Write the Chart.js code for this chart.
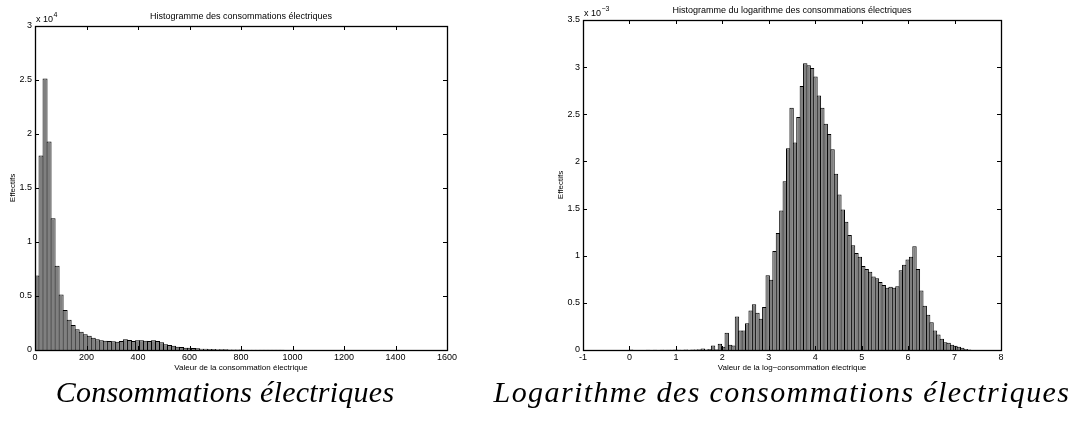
<!DOCTYPE html>
<html>
<head>
<meta charset="utf-8">
<script src="https://cdn.jsdelivr.net/npm/chart.js@4.4.1/dist/chart.umd.min.js"></script>
<style>
  body { margin: 0; background: #fff; }
  #wrap { position: relative; width: 1073px; height: 421px; overflow: hidden; background: #fff; }
  #left { position: absolute; left: 0; top: 0; }
  #right { position: absolute; left: 540px; top: 0; }
  .caption {
    position: absolute; top: 377px; line-height: 30px;
    font-family: "Liberation Serif", serif; font-style: italic; font-size: 30px;
    white-space: nowrap; transform: translateX(-50%);
  }
</style>
</head>
<body>
<div id="wrap">
  <canvas id="left" width="470" height="380"></canvas>
  <canvas id="right" width="533" height="380"></canvas>
  <div class="caption" style="left:225px; letter-spacing:0.25px">Consommations électriques</div>
  <div class="caption" style="left:782px; letter-spacing:1.4px">Logarithme des consommations électriques</div>
</div>
<script>
// histogram of the raw consumption: 100 bins starting at 0
const consBinWidth = 15.6;
const consCounts = [
  6900, 18000, 25150, 19300, 12200, 7800, 5150, 3700, 2800, 2310,
  1920, 1690, 1450, 1330, 1140, 990, 900, 860, 830, 800,
  770, 830, 990, 925, 830, 900, 900, 860, 830, 900,
  830, 710, 525, 460, 400, 310, 280, 215, 215, 185,
  155, 120, 120, 90, 90, 75, 65, 60, 55, 45,
  40, 38, 32, 30, 26, 24, 20, 18, 16, 15,
  13, 12, 10, 10, 9, 8, 7, 7, 6, 6,
  5, 5, 4, 4, 4, 3, 3, 3, 3, 2,
  2, 2, 2, 2, 1, 1, 1, 1, 1, 1,
  1, 1, 1, 1, 1, 1, 1, 1, 1, 1
];

// histogram of the log-consumption: 100 bins starting at 0, values in 1e-3
const logBinWidth = 0.0735;
const logFreqE3 = [
  0.004, 0, 0.001, 0.001, 0, 0.002, 0.001, 0.002, 0.001, 0.002,
  0.003, 0.002, 0.002, 0.006, 0.002, 0.003, 0.004, 0.003, 0.005, 0.004,
  0.008, 0.015, 0.006, 0.010, 0.048, 0.008, 0.066, 0.035, 0.183, 0.055,
  0.048, 0.356, 0.207, 0.207, 0.285, 0.42, 0.484, 0.395, 0.331, 0.455,
  0.792, 0.746, 1.05, 1.24, 1.48, 1.79, 2.14, 2.57, 2.20, 2.47,
  2.80, 3.04, 3.02, 2.99, 2.90, 2.70, 2.57, 2.40, 2.29, 2.13,
  1.87, 1.65, 1.49, 1.36, 1.22, 1.11, 1.03, 0.99, 0.89, 0.86,
  0.83, 0.78, 0.76, 0.72, 0.69, 0.66, 0.67, 0.66, 0.675, 0.845,
  0.905, 0.96, 0.99, 1.10, 0.86, 0.63, 0.47, 0.374, 0.295, 0.207,
  0.165, 0.119, 0.083, 0.077, 0.055, 0.045, 0.035, 0.023, 0.010, 0.004
];

const toPoints = (values, width) => values.map((v, i) => ({ x: width * (i + 0.5), y: v }));

// matlab-like box, inner ticks and texts
const frame = {
  id: 'frame',
  afterDraw(chart, args, opts) {
    const { ctx, chartArea: a, scales } = chart;
    ctx.save();
    ctx.strokeStyle = '#000';
    ctx.lineWidth = 1;
    ctx.beginPath();
    scales.x.ticks.forEach((t) => {
      const px = Math.round(scales.x.getPixelForValue(t.value)) + 0.5;
      ctx.moveTo(px, a.bottom); ctx.lineTo(px, a.bottom - 4);
      ctx.moveTo(px, a.top); ctx.lineTo(px, a.top + 4);
    });
    scales.y.ticks.forEach((t) => {
      const py = Math.round(scales.y.getPixelForValue(t.value)) + 0.5;
      ctx.moveTo(a.left, py); ctx.lineTo(a.left + 4, py);
      ctx.moveTo(a.right, py); ctx.lineTo(a.right - 4, py);
    });
    ctx.stroke();
    ctx.lineWidth = 1.3;
    ctx.strokeRect(a.left + 0.5, a.top + 0.5, a.right - a.left, a.bottom - a.top);

    ctx.fillStyle = '#000';
    ctx.font = '9px "Liberation Sans", Arial, sans-serif';
    ctx.textAlign = 'center';
    ctx.fillText(opts.title, (a.left + a.right) / 2, a.top - 7);
    ctx.font = '8px "Liberation Sans", Arial, sans-serif';
    ctx.fillText(opts.xTitle, (a.left + a.right) / 2, a.bottom + 20);

    ctx.textAlign = 'left';
    ctx.font = '9px "Liberation Sans", Arial, sans-serif';
    ctx.fillText('x 10', a.left + 1, a.top - 4);
    const w = ctx.measureText('x 10').width;
    ctx.font = '7px "Liberation Sans", Arial, sans-serif';
    ctx.fillText(opts.exponent, a.left + 1 + w + 0.5, a.top - 9);

    ctx.translate(a.left - 20, (a.top + a.bottom) / 2);
    ctx.rotate(-Math.PI / 2);
    ctx.textAlign = 'center';
    ctx.font = '8px "Liberation Sans", Arial, sans-serif';
    ctx.fillText(opts.yTitle, 0, 0);
    ctx.restore();
  }
};

const makeChart = (id, points, cfg) => new Chart(document.getElementById(id), {
  type: 'bar',
  data: {
    datasets: [{
      data: points,
      backgroundColor: '#808080',
      borderColor: '#000',
      borderWidth: 1,
      barPercentage: cfg.barPct,
      categoryPercentage: 1
    }]
  },
  options: {
    responsive: false,
    animation: false,
    devicePixelRatio: 1,
    layout: { padding: cfg.padding },
    plugins: {
      legend: { display: false },
      tooltip: { enabled: false },
      frame: cfg.frame
    },
    scales: {
      x: {
        type: 'linear',
        offset: false,
        min: cfg.xMin, max: cfg.xMax,
        grid: { display: false, drawTicks: false, offset: false },
        border: { display: false },
        ticks: {
          stepSize: cfg.xStep, padding: 2, color: '#000', maxRotation: 0,
          font: { size: 9, family: '"Liberation Sans", Arial' },
          callback: (v) => String(v)
        },
        afterFit: (s) => { s.height = 30; }
      },
      y: {
        min: 0, max: cfg.yMax,
        grid: { display: false, drawTicks: false },
        border: { display: false },
        ticks: {
          stepSize: cfg.yStep, padding: 3, color: '#000',
          font: { size: 9, family: '"Liberation Sans", Arial' },
          callback: cfg.yFmt
        },
        afterFit: (s) => { s.width = cfg.yWidth; }
      }
    }
  },
  plugins: [frame]
});

makeChart('left', toPoints(consCounts, consBinWidth), {
  barPct: 1.25,
  padding: { left: 0, right: 23, top: 26, bottom: 0 },
  yWidth: 35,
  xMin: 0, xMax: 1600, xStep: 200,
  yMax: 30000, yStep: 5000,
  yFmt: (v) => String(v / 10000),
  frame: {
    title: 'Histogramme des consommations électriques',
    xTitle: 'Valeur de la consommation électrique',
    yTitle: 'Effectifs',
    exponent: '4'
  }
});

makeChart('right', toPoints(logFreqE3, logBinWidth), {
  barPct: 1.29,
  padding: { left: 0, right: 72, top: 20, bottom: 0 },
  yWidth: 43,
  xMin: -1, xMax: 8, xStep: 1,
  yMax: 3.5, yStep: 0.5,
  yFmt: (v) => String(v),
  frame: {
    title: 'Histogramme du logarithme des consommations électriques',
    xTitle: 'Valeur de la log\u2212consommation électrique',
    yTitle: 'Effectifs',
    exponent: '\u22123'
  }
});
</script>
</body>
</html>
